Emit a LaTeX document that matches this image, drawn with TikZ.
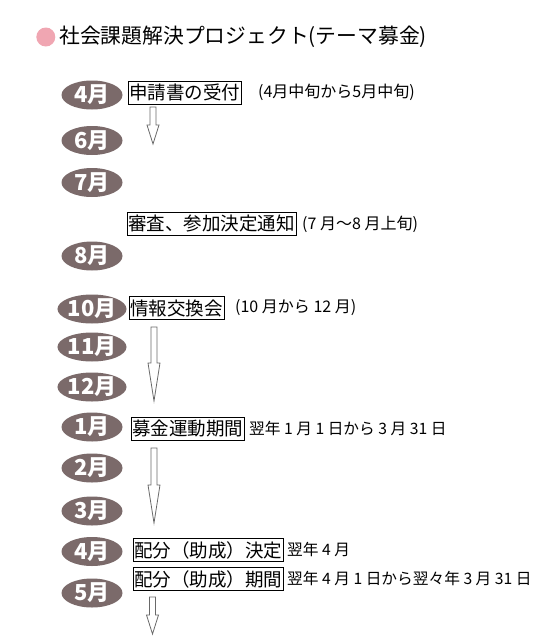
\documentclass[tikz,border=0pt]{standalone}
\usepackage{fontspec}
\setmainfont{Noto Sans CJK JP}
\usetikzlibrary{shapes.geometric,calc}
\definecolor{monthbrown}{RGB}{123,106,106}
\definecolor{dotpink}{RGB}{240,166,178}
\definecolor{arrowgray}{RGB}{105,105,105}

% hollow block arrow: top, tip, head length
\newcommand{\hollowarrow}[3]{%
  \draw[blockarrow] ($(#1)+(-3,0)$) -- ($(#1)+(3,0)$) -- ($(#2)+(3,-#3)$)
    -- ($(#2)+(6,-#3)$) -- (#2) -- ($(#2)+(-6,-#3)$) -- ($(#2)+(-3,-#3)$) -- cycle;}

\begin{document}
\begin{tikzpicture}[x=1pt,y=-1pt,
  month/.style={ellipse, fill=monthbrown, text=white, inner sep=0pt,
    minimum width=61pt, minimum height=29pt,
    font=\fontsize{22}{22}\selectfont\bfseries},
  stepbox/.style={draw, line width=0.8pt, anchor=west, inner xsep=1pt, inner ysep=0pt,
    minimum height=23pt, font=\fontsize{18.5}{18.5}\selectfont},
  note/.style={anchor=west, inner sep=0pt, font=\fontsize{16}{16}\selectfont},
  blockarrow/.style={draw=arrowgray, line width=0.8pt, fill=white}]
  \useasboundingbox (0,0) rectangle (540,640);

  \fill[dotpink] (45.8,37) circle (9.5);
  \node[anchor=west, inner sep=0pt, font=\fontsize{20.8}{20.8}\selectfont] (title) at (59,36.5)
    {社会課題解決プロジェクト(テーマ募金)};

  \node[month] (apr) at (92,95) {4月};
  \node[month] (jun) at (92,140.5) {6月};
  \node[month] (jul) at (92,182.5) {7月};
  \node[month] (aug) at (92,256) {8月};
  \node[month] (oct) at (92,309) {10月};
  \node[month] (nov) at (92,347) {11月};
  \node[month] (dec) at (92,387) {12月};
  \node[month] (jan) at (92,427) {1月};
  \node[month] (feb) at (92,468) {2月};
  \node[month] (mar) at (92,511) {3月};
  \node[month] (aprnext) at (92,551.5) {4月};
  \node[month] (may) at (92,593) {5月};

  \node[stepbox] (apply) at (128,92.5) {申請書の受付};
  \node[stepbox] (review) at (127,224) {審査、参加決定通知};
  \node[stepbox] (meeting) at (129,308) {情報交換会};
  \node[stepbox] (fund) at (131,428.5) {募金運動期間};
  \node[stepbox] (decide) at (133,550) {配分（助成）決定};
  \node[stepbox] (grant) at (133,579) {配分（助成）期間};

  \node[note] (applynote) at (258,92.5) {(4月中旬から5月中旬)};
  \node[note] (reviewnote) at (302,224) {(7 月〜8 月上旬)};
  \node[note] (meetingnote) at (235,308) {(10 月から 12 月)};
  \node[note, font=\fontsize{15.7}{15.7}\selectfont] (fundnote) at (249,428.5) {翌年 1 月 1 日から 3 月 31 日};
  \node[note, font=\fontsize{15.7}{15.7}\selectfont] (decidenote) at (287,550) {翌年 4 月};
  \node[note, font=\fontsize{15.7}{15.7}\selectfont] (grantnote) at (287,579) {翌年 4 月 1 日から翌々年 3 月 31 日};

  \coordinate (a1top) at (153,107);  \coordinate (a1tip) at (153,144);
  \coordinate (a2top) at (154,327);  \coordinate (a2tip) at (154,401);
  \coordinate (a3top) at (154,448);  \coordinate (a3tip) at (154,523);
  \coordinate (a4top) at (152.5,597); \coordinate (a4tip) at (152.5,634);
  \hollowarrow{a1top}{a1tip}{19}
  \hollowarrow{a2top}{a2tip}{38}
  \hollowarrow{a3top}{a3tip}{38}
  \hollowarrow{a4top}{a4tip}{19}
\end{tikzpicture}
\end{document}
